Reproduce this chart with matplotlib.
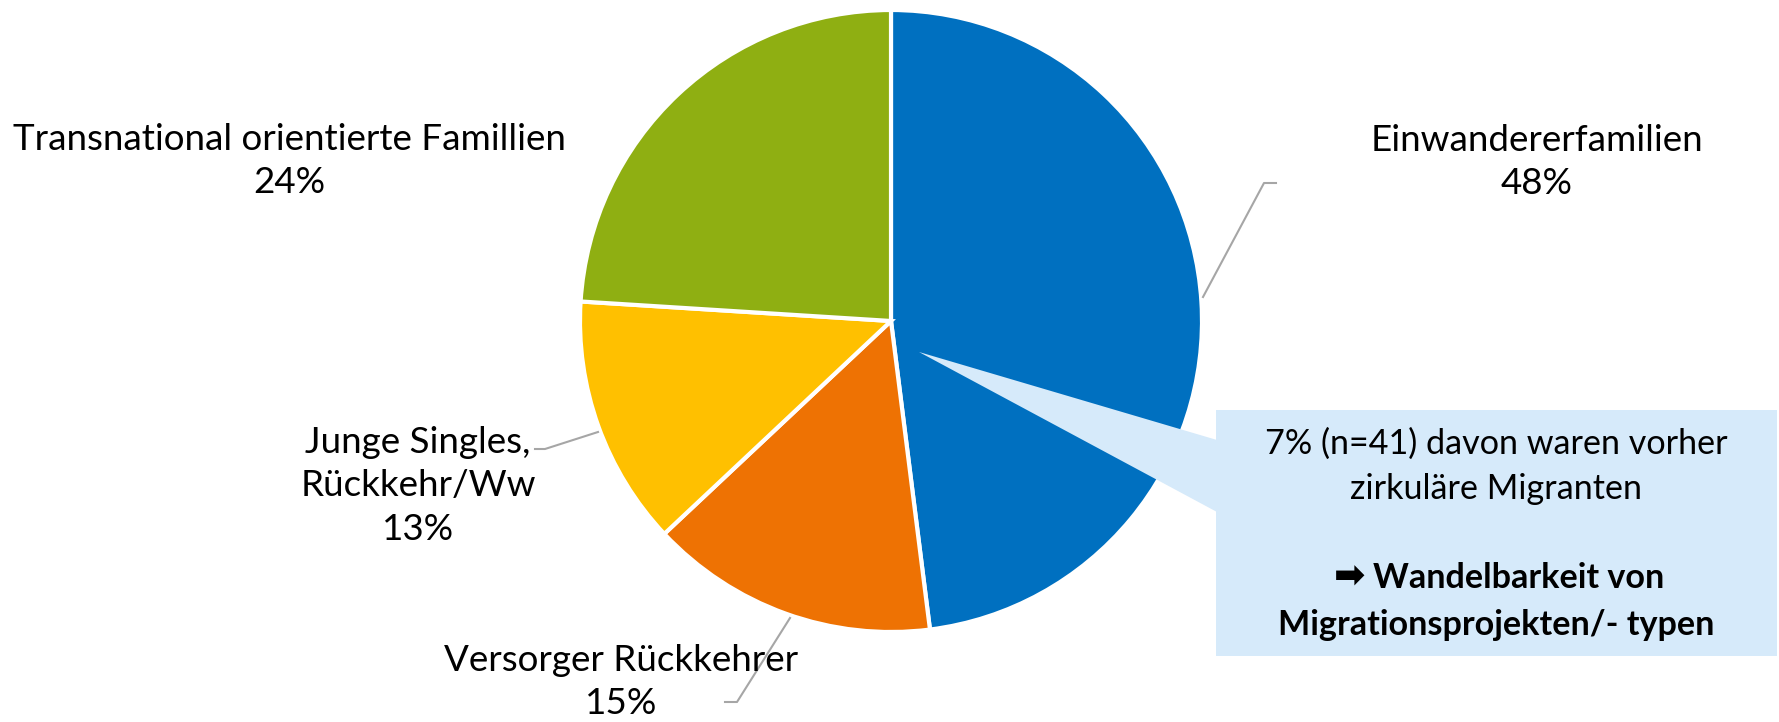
import matplotlib
matplotlib.use("Agg")
import matplotlib.pyplot as plt
from matplotlib.patches import Polygon, Rectangle

categories = ["Einwandererfamilien", "Versorger Rückkehrer", "Junge Singles,\nRückkehr/Ww", "Transnational orientierte Famillien"]
values = [48, 15, 13, 24]
colors = ["#0070C0", "#EE7203", "#FFC000", "#8FAF12"]
callout_text = "7% (n=41) davon waren vorher\nzirkuläre Migranten"
callout_bold1 = "Wandelbarkeit von"
callout_bold2 = "Migrationsprojekten/- typen"
arrow_sym = "➡"

W, H = 1779, 722
fig = plt.figure(figsize=(W / 100, H / 100), dpi=100)
ax = fig.add_axes([0, 0, 1, 1])

def Y(y):
    return H - y

cx, cy, r = 891, 321, 311
ax.pie(values, colors=colors, startangle=90, counterclock=False,
       center=(cx, Y(cy)), radius=r,
       wedgeprops=dict(edgecolor="white", linewidth=3))
ax.set_xlim(0, W)
ax.set_ylim(0, H)
ax.set_aspect("equal")
ax.axis("off")

font = ["Lato", "DejaVu Sans"]
fs = 26.5
fs2 = 24.6

# labels
labels_pos = [(1537, 162), (621, 682), (418, 486), (289, 161)]
for cat, v, (x, y) in zip(categories, values, labels_pos):
    ax.text(x, Y(y), f"{cat}\n{v}%", ha="center", va="center", fontsize=fs,
            family=font, color="black", linespacing=1.38)

# leader lines
lc = "#A6A6A6"
ax.plot([1203, 1264, 1276], [Y(297), Y(183), Y(183)], color=lc, lw=1.5)
ax.plot([598, 545, 535], [Y(432), Y(449), Y(449)], color=lc, lw=1.5)
ax.plot([790, 737, 725], [Y(618), Y(702), Y(702)], color=lc, lw=1.5)

# callout
bc = "#D6EAFA"
ax.add_patch(Rectangle((1216, Y(656)), 1777 - 1216, 656 - 410, facecolor=bc, edgecolor="none", zorder=5))
ax.add_patch(Polygon([(919, Y(352)), (1217, Y(440)), (1217, Y(512))], closed=True,
                     facecolor=bc, edgecolor="none", zorder=5))
ax.text(1496, Y(466), callout_text, ha="center", va="center", fontsize=fs2,
        family=font, linespacing=1.5, zorder=6)
t1 = ax.text(1519, Y(578), callout_bold1, ha="center", va="center", fontsize=fs2,
             family=font, fontweight="bold", zorder=6)
ax.text(1496, Y(625), callout_bold2, ha="center", va="center", fontsize=fs2,
        family=font, fontweight="bold", zorder=6)
ax.annotate(arrow_sym, xy=(0, 0.5), xycoords=t1, xytext=(-6, 0), textcoords="offset points",
            ha="right", va="center", fontsize=27, family=["DejaVu Sans"], fontweight="bold",
            zorder=6)

fig.savefig("out.png", dpi=100, facecolor="white")
